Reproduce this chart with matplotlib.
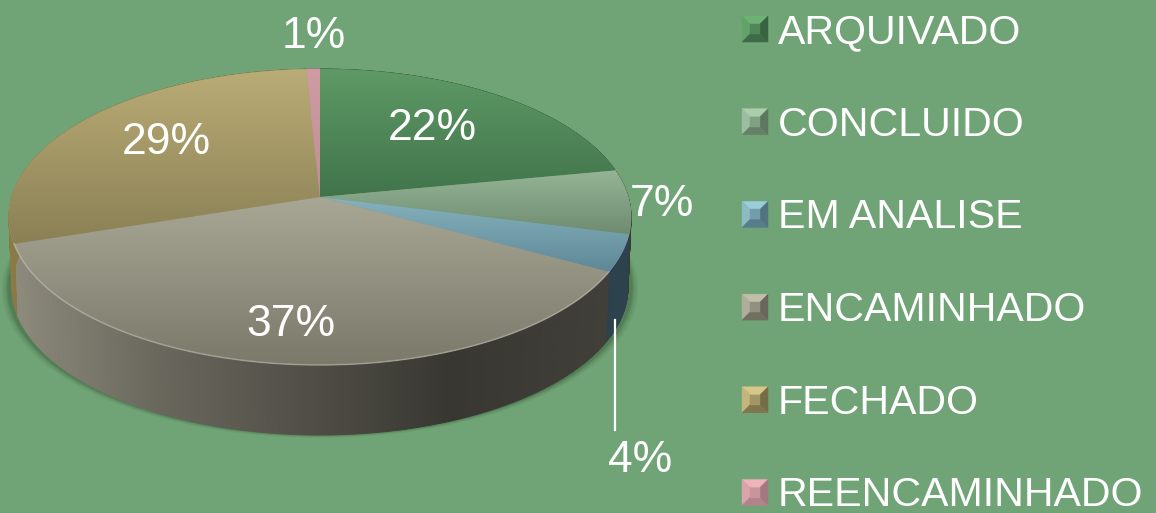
import numpy as np
import matplotlib.pyplot as plt
from matplotlib.colors import to_rgb
from matplotlib.patches import Polygon
from matplotlib.collections import PolyCollection

labels = ["ARQUIVADO", "CONCLUIDO", "EM ANALISE", "ENCAMINHADO", "FECHADO", "REENCAMINHADO"]
values = [22, 7, 4, 37, 29.2, 0.8]

top_light = ["#5f9a66", "#95b496", "#85b2bd", "#a8a694", "#baac76", "#cf9ca3"]
top_dark = ["#41744b", "#6f8c70", "#5f8896", "#7b796a", "#8a8055", "#c08e96"]
side_base = ["#41744b", "#6f8c70", "#6291aa", "#8f8c7e", "#8a7a45", "#c08e96"]

# where the percent labels sit (pixels)
label_x = [432, 662, 640, 291, 166, 314]
label_y = [128, 204, 460, 325, 142, 36]

bg = "#70a376"
plt.rcParams["font.family"] = ["Liberation Sans", "DejaVu Sans"]

fig = plt.figure(figsize=(11.56, 5.13), dpi=100, facecolor=bg)
ax = fig.add_axes([0, 0, 1, 1])
ax.set_facecolor(bg)
ax.axis("off")


# disc seen in perspective, angle is clockwise from 12 o'clock
def project(ang):
    u = np.sin(ang)
    v = np.cos(ang)
    w = 1 + 0.135 * v
    return 320 + 308.2 * u / w, 197 - 145.3 * v / w


depth = 70
edges = np.cumsum([0] + values) / sum(values) * 2 * np.pi

# soft shadow round the bottom of the drum
a = np.linspace(0, 2 * np.pi, 300)
sx, sy = project(a)
for grow, al in zip([7, 5, 3, 1.5], [0.06, 0.09, 0.12, 0.15]):
    ax.add_patch(Polygon(np.c_[320 + (sx - 320) * (1 + grow / 311), sy + depth + grow * 0.4],
                         fc="#20401f", ec="none", alpha=al, zorder=1))

# side wall
for i in range(len(values)):
    a = np.linspace(edges[i], edges[i + 1], max(int(values[i] * 8), 4))
    x, y = project(a)
    quads = []
    cols = []
    for j in range(len(a) - 1):
        quads.append([(x[j], y[j]), (x[j + 1], y[j + 1]),
                      (x[j + 1] - 3 * np.sin(a[j + 1]), y[j + 1] + depth),
                      (x[j] - 3 * np.sin(a[j]), y[j] + depth)])
        shade = np.interp((x[j] + x[j + 1]) / 2, [9, 150, 250, 450, 632], [1, 0.75, 0.63, 0.39, 0.46])
        cols.append(np.array(to_rgb(side_base[i])) * shade)
    ax.add_collection(PolyCollection(quads, facecolors=cols, edgecolors=cols, linewidths=0.6, zorder=2))

# top faces, each with its own vertical gradient
for i in range(len(values)):
    a = np.linspace(edges[i], edges[i + 1], max(int(values[i] * 6), 6))
    x, y = project(a)
    verts = np.r_[[(320, 197)], np.c_[x, y]]
    light = np.array(to_rgb(top_light[i]))
    dark = np.array(to_rgb(top_dark[i]))
    poly = Polygon(verts, fc=(light + dark) / 2, ec=(light + dark) / 2, lw=0.5, zorder=3)
    ax.add_patch(poly)
    t = np.linspace(0, 1, 128)[:, None, None]
    grad = light[None, None, :] * (1 - t) + dark[None, None, :] * t
    im = ax.imshow(grad, extent=(verts[:, 0].min(), verts[:, 0].max(), verts[:, 1].max(), verts[:, 1].min()),
                   aspect="auto", zorder=4)
    im.set_clip_path(poly)

# light line on the front rim
a = np.linspace(edges[3], edges[4], 200)
x, y = project(a)
ax.plot(x, y, color="white", alpha=0.25, lw=1.2, zorder=5)

# leader line for the 4% slice
ax.plot([615, 615], [320, 430], color="white", lw=1.6, zorder=6)

for i in range(len(values)):
    ax.text(label_x[i], label_y[i], "%.0f%%" % values[i], color="white", fontsize=32,
            ha="center", va="center", zorder=7)

# legend with bevelled swatches
for i, name in enumerate(labels):
    yc = 29 + i * 92.7
    x0, x1, y0, y1 = 742, 768, yc - 13, yc + 13
    ix0, ix1, iy0, iy1 = 750, 760, yc - 5, yc + 5
    light = np.array(to_rgb(top_light[i]))
    dark = np.array(to_rgb(top_dark[i]))
    mid = (light + dark) / 2
    faces = [[(x0, y0), (x1, y0), (ix1, iy0), (ix0, iy0)],
             [(x0, y0), (ix0, iy0), (ix0, iy1), (x0, y1)],
             [(x1, y0), (x1, y1), (ix1, iy1), (ix1, iy0)],
             [(x0, y1), (x1, y1), (ix1, iy1), (ix1, iy0)],
             [(ix0, iy0), (ix1, iy0), (ix1, iy1), (ix0, iy1)]]
    faces[3] = [(x0, y1), (x1, y1), (ix1, iy1), (ix0, iy1)]
    fcols = [np.minimum(light * 1.15, 1), np.minimum(light * 1.05, 1), dark * 0.85, dark * 0.92, mid]
    for f, c in zip(faces, fcols):
        ax.add_patch(Polygon(f, fc=c, ec=c, lw=0.3, zorder=5))
    ax.text(778, yc + 3, name, color="white", fontsize=29.6, ha="left", va="center", zorder=7)

ax.set_xlim(0, 1156)
ax.set_ylim(513, 0)
fig.savefig("out.png", dpi=100, facecolor=bg)
